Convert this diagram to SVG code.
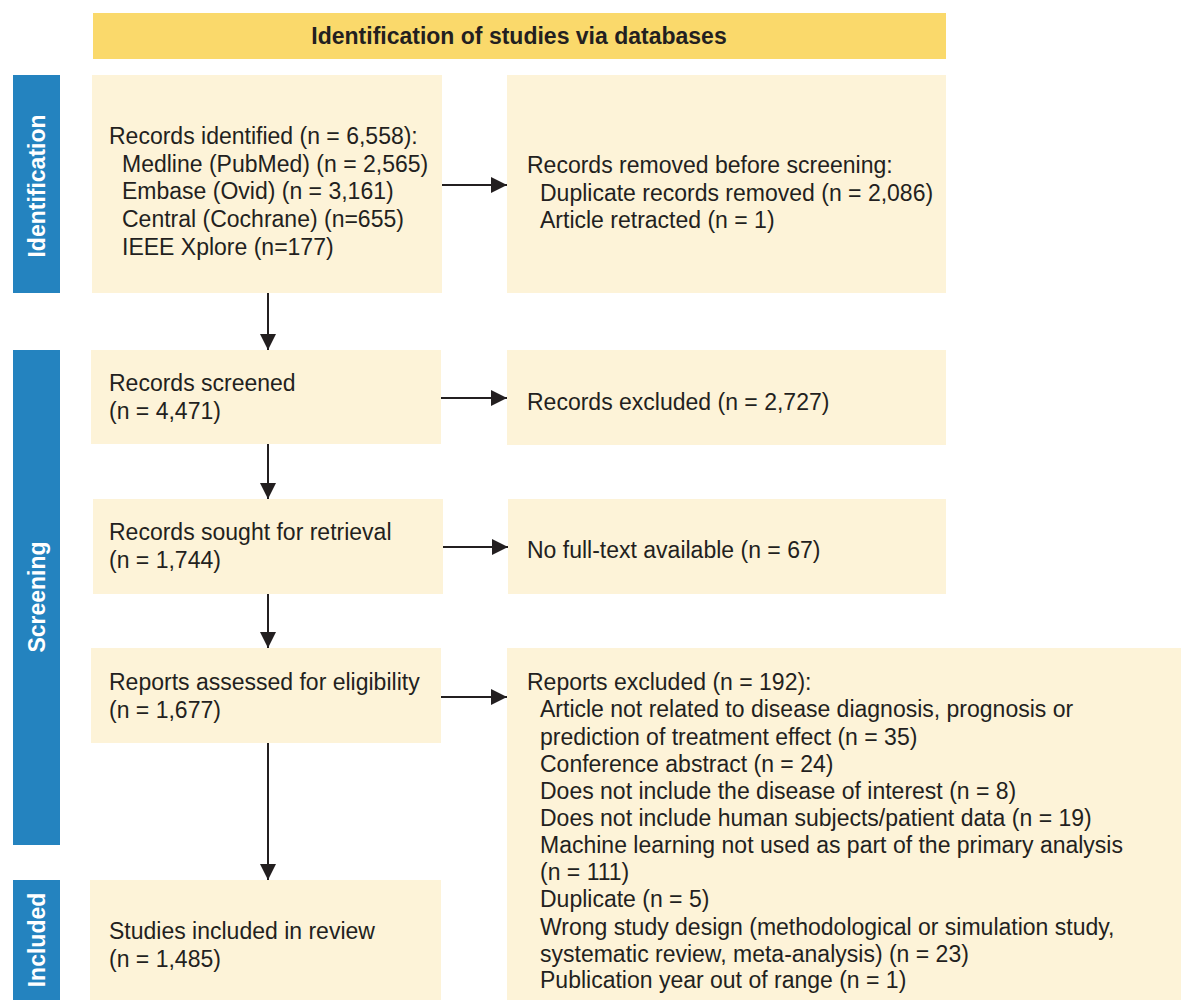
<svg xmlns="http://www.w3.org/2000/svg" width="1181" height="1000" viewBox="0 0 1181 1000">
<style>
.box{fill:#FDF3D8}
.side{fill:#2483BF}
.t{font-family:"Liberation Sans",Arial,sans-serif;font-size:23px;fill:#231F20}
.st{font-family:"Liberation Sans",Arial,sans-serif;font-size:23px;font-weight:bold;fill:#FFFFFF}
.ht{font-family:"Liberation Sans",Arial,sans-serif;font-size:23px;font-weight:bold;fill:#231F20}
.c{stroke:#231F20;stroke-width:2;fill:none}
</style>
<defs>
<marker id="ah" viewBox="0 0 10 10" refX="10" refY="5" markerWidth="8" markerHeight="8.5" markerUnits="strokeWidth" orient="auto">
<path d="M0,0 L10,5 L0,10 z" fill="#231F20"/>
</marker>
</defs>
<rect width="1181" height="1000" fill="#FFFFFF"/>
<g id="header">
<rect x="93" y="13" width="853" height="46" fill="#FAD96B"/>
<text class="ht" x="519" y="44" text-anchor="middle">Identification of studies via databases</text>
</g>
<g id="side-identification">
<rect class="side" x="13" y="75" width="47" height="218"/>
<text class="st" transform="translate(45,186) rotate(-90)" text-anchor="middle">Identification</text>
</g>
<g id="side-screening">
<rect class="side" x="13" y="350" width="47" height="495"/>
<text class="st" transform="translate(45,597) rotate(-90)" text-anchor="middle">Screening</text>
</g>
<g id="side-included">
<rect class="side" x="13" y="880" width="47" height="120"/>
<text class="st" transform="translate(45,940) rotate(-90)" text-anchor="middle">Included</text>
</g>
<g id="records-identified">
<rect class="box" x="92" y="75" width="350" height="218"/>
<text class="t" x="109" y="144">Records identified (n = 6,558):</text>
<text class="t" x="122" y="172">Medline (PubMed) (n = 2,565)</text>
<text class="t" x="122" y="199">Embase (Ovid) (n = 3,161)</text>
<text class="t" x="122" y="227">Central (Cochrane) (n=655)</text>
<text class="t" x="122" y="255">IEEE Xplore (n=177)</text>
</g>
<g id="records-removed">
<rect class="box" x="507" y="75" width="439" height="218"/>
<text class="t" x="527" y="173">Records removed before screening:</text>
<text class="t" x="540" y="201">Duplicate records removed (n = 2,086)</text>
<text class="t" x="540" y="228">Article retracted (n = 1)</text>
</g>
<g id="records-screened">
<rect class="box" x="91" y="350" width="350" height="94"/>
<text class="t" x="109" y="391">Records screened</text>
<text class="t" x="109" y="419">(n = 4,471)</text>
</g>
<g id="records-excluded">
<rect class="box" x="507" y="350" width="439" height="95"/>
<text class="t" x="527" y="410">Records excluded (n = 2,727)</text>
</g>
<g id="records-sought">
<rect class="box" x="93" y="499" width="350" height="95"/>
<text class="t" x="109" y="540">Records sought for retrieval</text>
<text class="t" x="109" y="568">(n = 1,744)</text>
</g>
<g id="no-full-text">
<rect class="box" x="508" y="499" width="438" height="95"/>
<text class="t" x="527" y="558">No full-text available (n = 67)</text>
</g>
<g id="reports-assessed">
<rect class="box" x="91" y="648" width="350" height="95"/>
<text class="t" x="109" y="690">Reports assessed for eligibility</text>
<text class="t" x="109" y="718">(n = 1,677)</text>
</g>
<g id="reports-excluded">
<rect class="box" x="507" y="648" width="674" height="352"/>
<text class="t" x="527" y="690">Reports excluded (n = 192):</text>
<text class="t" x="540" y="717">Article not related to disease diagnosis, prognosis or</text>
<text class="t" x="540" y="745">prediction of treatment effect (n = 35)</text>
<text class="t" x="540" y="772">Conference abstract (n = 24)</text>
<text class="t" x="540" y="799">Does not include the disease of interest (n = 8)</text>
<text class="t" x="540" y="826">Does not include human subjects/patient data (n = 19)</text>
<text class="t" x="540" y="853">Machine learning not used as part of the primary analysis</text>
<text class="t" x="540" y="880">(n = 111)</text>
<text class="t" x="540" y="907">Duplicate (n = 5)</text>
<text class="t" x="540" y="935">Wrong study design (methodological or simulation study,</text>
<text class="t" x="540" y="962">systematic review, meta-analysis) (n = 23)</text>
<text class="t" x="540" y="988">Publication year out of range (n = 1)</text>
</g>
<g id="studies-included">
<rect class="box" x="90" y="880" width="351" height="120"/>
<text class="t" x="109" y="939">Studies included in review</text>
<text class="t" x="109" y="967">(n = 1,485)</text>
</g>
<g id="connectors">
<line class="c" x1="268" y1="293" x2="268" y2="350" marker-end="url(#ah)"/>
<line class="c" x1="268" y1="444" x2="268" y2="499" marker-end="url(#ah)"/>
<line class="c" x1="268" y1="594" x2="268" y2="648" marker-end="url(#ah)"/>
<line class="c" x1="268" y1="743" x2="268" y2="880" marker-end="url(#ah)"/>
<line class="c" x1="442" y1="185" x2="507" y2="185" marker-end="url(#ah)"/>
<line class="c" x1="441" y1="398" x2="507" y2="398" marker-end="url(#ah)"/>
<line class="c" x1="443" y1="547" x2="508" y2="547" marker-end="url(#ah)"/>
<line class="c" x1="441" y1="697" x2="507" y2="697" marker-end="url(#ah)"/>
</g>
</svg>
